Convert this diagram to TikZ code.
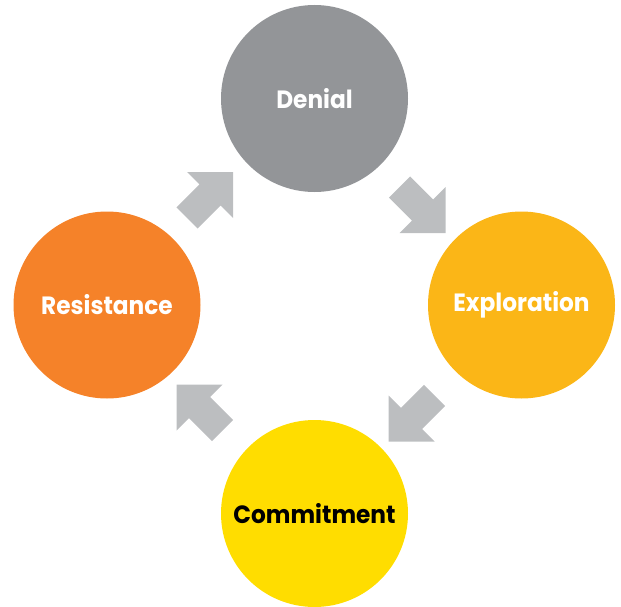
\documentclass[tikz,border=0pt]{standalone}
\usepackage{fontspec}
\newfontfamily\pop{Poppins}[FakeStretch=0.93]
\definecolor{denialgray}{HTML}{939598}
\definecolor{explorange}{HTML}{FBB617}
\definecolor{commityellow}{HTML}{FFDD00}
\definecolor{resistorange}{HTML}{F58229}
\definecolor{arrowgray}{HTML}{BCBEC0}
\begin{document}
\begin{tikzpicture}[x=1pt,y=-1pt,
  stage/.style={circle,minimum size=187pt,inner sep=0pt,font=\pop\bfseries\fontsize{25}{29}\selectfont,text=white},
  blockarrow/.pic={\fill[arrowgray] (0,0) -- (-46,0) -- (-33.6,12.4) -- (-56.6,35.4) -- (-35.4,56.6) -- (-12.4,33.6) -- (0,46) -- cycle;}]
\useasboundingbox (0,0) rectangle (621,607);
\node[stage,fill=denialgray] (denial) at (314.5,98.5) {Denial};
\node[stage,fill=explorange] (exploration) at (521.5,305) {Exploration};
\node[stage,fill=commityellow,text=black] (commitment) at (314.5,513.5) {Commitment};
\node[stage,fill=resistorange] (resistance) at (107,305) {Resistance};
\coordinate (tipne) at (233,172);
\coordinate (tipse) at (445.5,233);
\coordinate (tipsw) at (388.5,441.5);
\coordinate (tipnw) at (176.5,384.5);
\pic at (tipne) {blockarrow};
\pic[yscale=-1] at (tipse) {blockarrow};
\pic[xscale=-1,yscale=-1] at (tipsw) {blockarrow};
\pic[xscale=-1] at (tipnw) {blockarrow};
\end{tikzpicture}
\end{document}
